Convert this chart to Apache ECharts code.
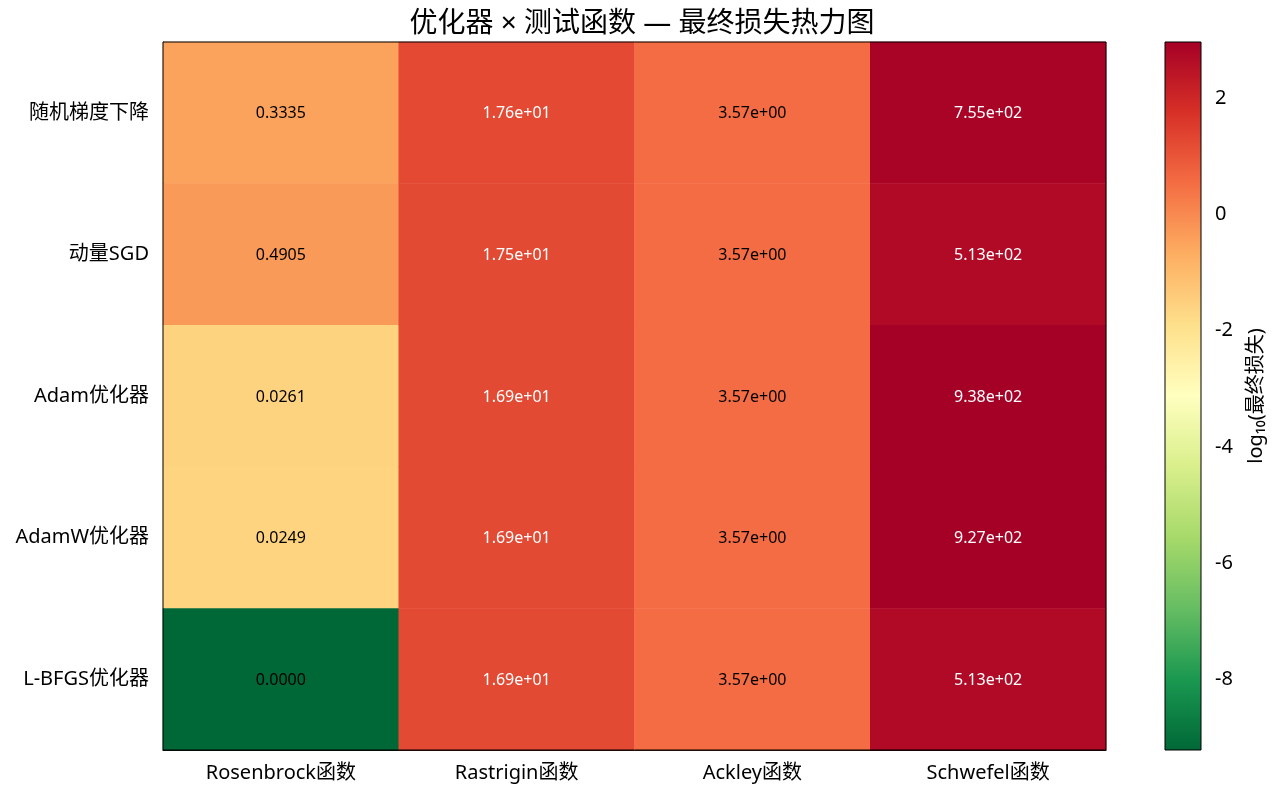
<!DOCTYPE html>
<html lang="zh">
<head>
    <meta charset="UTF-8">
    <title>优化器 × 测试函数 — 最终损失热力图</title>
    <style>
        html, body { margin: 0; padding: 0; background: #fff; }
        #chart { width: 1280px; height: 796px; }
    </style>
</head>
<body>
    <div id="chart"></div>
    <script src="https://cdn.jsdelivr.net/npm/echarts@6/dist/echarts.min.js"></script>
    <script>
        // 行：优化器，列：测试函数
        const optimizers = ['随机梯度下降', '动量SGD', 'Adam优化器', 'AdamW优化器', 'L-BFGS优化器']
        const functions = ['Rosenbrock函数', 'Rastrigin函数', 'Ackley函数', 'Schwefel函数']

        // 每个函数下各优化器的最终损失
        const rosenbrockLoss = [0.3335, 0.4905, 0.0261, 0.0249, 6.0e-10]
        const rastriginLoss = [17.6, 17.5, 16.9, 16.9, 16.9]
        const ackleyLoss = [3.57, 3.57, 3.57, 3.57, 3.57]
        const schwefelLoss = [755, 513, 938, 927, 513]

        const colorbarTicks = [-8, -6, -4, -2, 0, 2]
        // RdYlGn 反转
        const palette = ['#006837', '#1a9850', '#66bd63', '#a6d96a', '#d9ef8b', '#ffffbf',
            '#fee08b', '#fdae61', '#f46d43', '#d73027', '#a50026']

        const lossCols = [rosenbrockLoss, rastriginLoss, ackleyLoss, schwefelLoss]
        const logMin = Math.log10(Math.min(...lossCols.flat()))
        const logMax = Math.log10(Math.max(...lossCols.flat()))

        function fmt (v) {
            if (v < 1) return v.toFixed(4)
            const e = Math.floor(Math.log10(v))
            const m = (v / Math.pow(10, e)).toFixed(2)
            return m + 'e' + (e < 0 ? '-' : '+') + String(Math.abs(e)).padStart(2, '0')
        }

        const data = []
        lossCols.forEach((col, x) => {
            col.forEach((v, y) => {
                const lv = Math.log10(v)
                data.push({
                    value: [x, y, lv, v],
                    label: { color: lv > 1 ? '#fff' : '#000' }
                })
            })
        })

        const font = '"Noto Sans", "Noto Sans CJK SC", sans-serif'
        const plot = { left: 163, top: 42, width: 943, height: 708 }
        const bar = { left: 1165, top: 42, width: 36, height: 708 }

        const chart = echarts.init(document.getElementById('chart'))
        chart.setOption({
            backgroundColor: '#fff',
            animation: false,
            textStyle: { fontFamily: font },
            title: {
                text: '优化器 × 测试函数 — 最终损失热力图',
                left: 637,
                textAlign: 'center',
                top: 5,
                textStyle: { fontSize: 28, fontWeight: 'normal', color: '#000', fontFamily: font }
            },
            grid: [
                Object.assign({}, plot),
                Object.assign({}, bar)
            ],
            xAxis: [{
                type: 'category',
                data: functions,
                gridIndex: 0,
                axisLine: { lineStyle: { color: '#000' } },
                axisTick: { alignWithLabel: true, length: 6, lineStyle: { color: '#000' } },
                axisLabel: { color: '#000', fontSize: 20, margin: 13, fontFamily: font },
                splitLine: { show: false }
            }, {
                type: 'value',
                gridIndex: 1,
                show: false,
                min: 0,
                max: 1
            }],
            yAxis: [{
                type: 'category',
                data: optimizers,
                inverse: true,
                gridIndex: 0,
                axisLine: { lineStyle: { color: '#000' } },
                axisTick: { alignWithLabel: true, length: 6, lineStyle: { color: '#000' } },
                axisLabel: { color: '#000', fontSize: 20, margin: 14, fontFamily: font },
                splitLine: { show: false }
            }, {
                type: 'value',
                gridIndex: 1,
                position: 'right',
                min: logMin,
                max: logMax,
                axisLine: { show: false },
                splitLine: { show: false },
                axisTick: { show: true, length: 6, customValues: colorbarTicks, lineStyle: { color: '#000' } },
                axisLabel: { color: '#000', fontSize: 20, margin: 14, customValues: colorbarTicks, fontFamily: font },
                name: 'log₁₀(最终损失)',
                nameLocation: 'middle',
                nameRotate: 90,
                nameGap: 45,
                nameTextStyle: { color: '#000', fontSize: 20, fontFamily: font }
            }],
            visualMap: {
                show: false,
                seriesIndex: 0,
                dimension: 2,
                min: logMin,
                max: logMax,
                inRange: { color: palette }
            },
            graphic: [{
                type: 'rect',
                shape: { x: bar.left, y: bar.top, width: bar.width, height: bar.height },
                style: {
                    fill: new echarts.graphic.LinearGradient(0, 1, 0, 0,
                        palette.map((c, i) => ({ offset: i / (palette.length - 1), color: c }))),
                    stroke: '#000',
                    lineWidth: 1
                },
                z: 100
            }, {
                type: 'rect',
                shape: { x: plot.left, y: plot.top, width: plot.width, height: plot.height },
                style: { fill: 'none', stroke: '#000', lineWidth: 1 },
                z: 100
            }],
            series: [{
                type: 'heatmap',
                xAxisIndex: 0,
                yAxisIndex: 0,
                data,
                label: {
                    show: true,
                    fontSize: 16,
                    fontFamily: font,
                    offset: [0, 1],
                    formatter: p => fmt(p.value[3])
                },
                emphasis: { disabled: true }
            }, {
                type: 'scatter',
                xAxisIndex: 1,
                yAxisIndex: 1,
                data: []
            }]
        })
    </script>
</body>
</html>
